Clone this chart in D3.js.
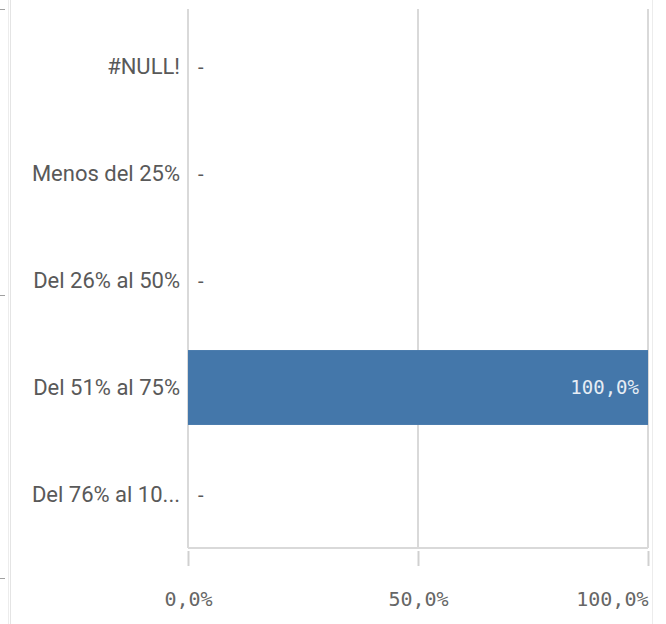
<!DOCTYPE html>
<html><head><meta charset="utf-8">
<script src="https://cdn.jsdelivr.net/npm/d3@7"></script>
<style>body{margin:0;background:#fff}svg{display:block}</style>
</head><body>
<svg id="c" width="666" height="624"></svg>
<script>
const categories = ["#NULL!", "Menos del 25%", "Del 26% al 50%", "Del 51% al 75%", "Del 76% al 10..."];
const values = [null, null, null, 1.0, null];
const xTicks = [0, 0.5, 1.0];
const xTickLabels = ["0,0%", "50,0%", "100,0%"];

(function () {
const svg = d3.select("#c");
const pLeft = 188, pRight = 648, pTop = 9, pBottom = 548;
const x = d3.scaleLinear().domain([0, 1]).range([pLeft, pRight]);
const y = d3.scaleBand().domain(categories).range([pTop + 4, pBottom]).paddingInner(0.3).paddingOuter(0.15);
const mono = "'DejaVu Sans Mono', monospace";
const sans = "Roboto, 'Open Sans', sans-serif";

// side decorations
svg.append("line").attr("x1", 8.5).attr("x2", 8.5).attr("y1", 0).attr("y2", 624).attr("stroke", "#ececec");
svg.append("line").attr("x1", 10.5).attr("x2", 10.5).attr("y1", 0).attr("y2", 624).attr("stroke", "#e4e4e4");
[9, 295, 578].forEach(v => svg.append("line").attr("x1", 0).attr("x2", 5).attr("y1", v + 0.5).attr("y2", v + 0.5).attr("stroke", "#a0a0a0"));
svg.append("line").attr("x1", 652.5).attr("x2", 652.5).attr("y1", 0).attr("y2", 624).attr("stroke", "#ececec");

// gridlines
svg.append("g").selectAll("line").data(xTicks).join("line")
  .attr("x1", d => x(d)).attr("x2", d => x(d)).attr("y1", pTop).attr("y2", pBottom)
  .attr("stroke", "#d9d9d9").attr("stroke-width", 2);
svg.append("line").attr("x1", pLeft).attr("x2", pRight).attr("y1", pBottom).attr("y2", pBottom)
  .attr("stroke", "#d9d9d9").attr("stroke-width", 2);

// x axis
const xAxis = svg.append("g").attr("transform", `translate(0,${pBottom + 3})`)
  .call(d3.axisBottom(x).tickValues(xTicks).tickFormat((d, i) => xTickLabels[i]).tickSize(15).tickPadding(26));
xAxis.select(".domain").remove();
xAxis.selectAll(".tick line").attr("stroke", "#d0d0d0").attr("stroke-width", 2);
xAxis.selectAll(".tick text").attr("font-family", mono).attr("font-size", 20).attr("fill", "#666")
  .attr("text-anchor", (d, i) => i === xTicks.length - 1 ? "end" : "middle");

// y axis labels
const yAxis = svg.append("g").attr("transform", `translate(${pLeft - 8},0)`)
  .call(d3.axisLeft(y).tickSize(0).tickPadding(0));
yAxis.select(".domain").remove();
yAxis.selectAll(".tick text").attr("font-family", sans).attr("font-size", 22).attr("fill", "#595959");

// bars
svg.append("g").selectAll("rect").data(categories.map((c, i) => ({c, v: values[i]})).filter(d => d.v != null))
  .join("rect").attr("x", x(0)).attr("y", d => y(d.c)).attr("width", d => x(d.v) - x(0)).attr("height", y.bandwidth())
  .attr("fill", "#4477aa");

// value labels
const fmt = v => (v * 100).toFixed(1).replace(".", ",") + "%";
svg.append("g").selectAll("text").data(categories.map((c, i) => ({c, v: values[i]}))).join("text")
  .attr("x", d => d.v == null ? x(0) + 10 : x(d.v) - 9)
  .attr("y", d => y(d.c) + y.bandwidth() / 2)
  .attr("dy", "0.35em")
  .attr("text-anchor", d => d.v == null ? "start" : "end")
  .attr("font-family", d => d.v == null ? sans : mono)
  .attr("font-size", d => d.v == null ? 20 : 19)
  .attr("fill", d => d.v == null ? "#595959" : "#e6edf5")
  .text(d => d.v == null ? "-" : fmt(d.v));
})();
</script>
</body></html>
